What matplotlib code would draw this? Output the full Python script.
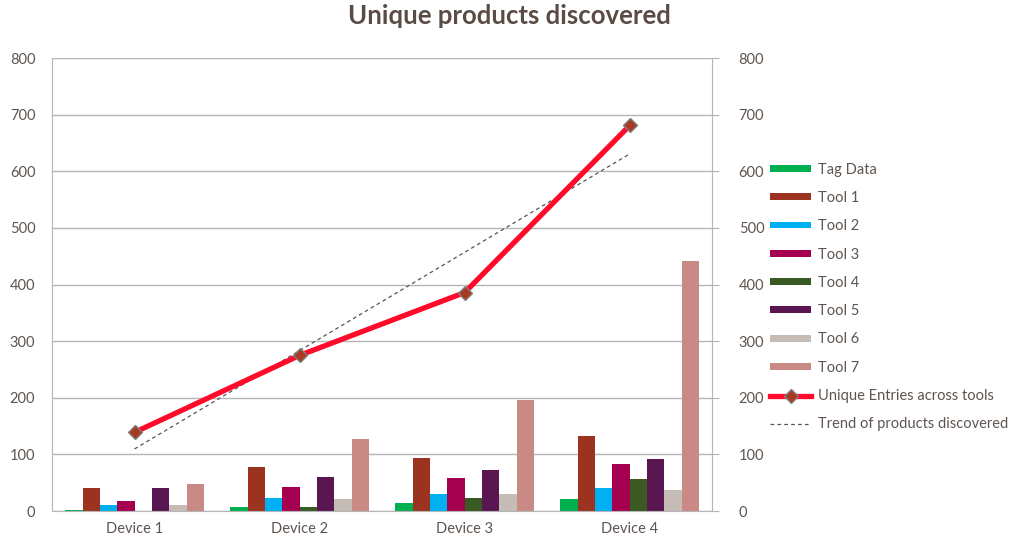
import matplotlib.pyplot as plt
import numpy as np

devices = ["Device 1", "Device 2", "Device 3", "Device 4"]
series_names = ["Tag Data", "Tool 1", "Tool 2", "Tool 3", "Tool 4", "Tool 5", "Tool 6", "Tool 7"]
tag_data = [2, 8, 14, 22]
tool1 = [41, 77, 94, 133]
tool2 = [11, 23, 30, 41]
tool3 = [18, 43, 59, 83]
tool4 = [0, 8, 24, 56]
tool5 = [41, 60, 72, 92]
tool6 = [10, 21, 30, 38]
tool7 = [47, 127, 197, 441]
unique_entries = [139, 275, 386, 681]

colors = ["#00b050", "#9c3320", "#00b0f0", "#a50050", "#3a5a24", "#5a1650", "#c4bcb5", "#c98a86"]
text_c = "#5f5550"
grid_c = "#b5b5b5"

plt.rcParams["font.family"] = ["Lato", "DejaVu Sans"]

fig = plt.figure(figsize=(10.19, 5.38), dpi=100)
ax = fig.add_axes([0.051, 0.05, 0.648, 0.842])
ax2 = ax.twinx()

x = np.arange(len(devices))
bw = 0.105
series = [tag_data, tool1, tool2, tool3, tool4, tool5, tool6, tool7]
handles = []
for i, (vals, name, c) in enumerate(zip(series, series_names, colors)):
    b = ax.bar(x + (i - 3.5) * bw, vals, bw, color=c, label=name, zorder=2)
    handles.append(b)

ln, = ax2.plot(x, unique_entries, color="#ff0a2a", lw=3.8, marker="D", ms=7,
               mfc="#a83a22", mec="#7f7f7f", mew=1, label="Unique Entries across tools", zorder=4)
# linear trend
k, b0 = np.polyfit(x, unique_entries, 1)
tr, = ax2.plot(x, k * x + b0, color="#555555", lw=0.9, ls=(0, (3, 2.5)),
               label="Trend of products discovered", zorder=3)

for a in (ax, ax2):
    a.set_ylim(0, 800)
    a.set_yticks(range(0, 801, 100))
    a.set_xlim(-0.5, 3.5)
    for s in a.spines.values():
        s.set_visible(False)

ax.yaxis.grid(True, color=grid_c, lw=1, zorder=0)
ax.set_axisbelow(True)
ax.spines["left"].set_visible(True)
ax.spines["left"].set_color(grid_c)
ax.spines["bottom"].set_visible(True)
ax.spines["bottom"].set_color(grid_c)
ax2.spines["right"].set_visible(True)
ax2.spines["right"].set_color(grid_c)

ax.tick_params(axis="y", length=0, pad=12, labelsize=10.5, labelcolor=text_c)
ax.tick_params(axis="x", length=0, pad=8, labelsize=10.5, labelcolor=text_c)
ax2.tick_params(axis="y", length=5, color=grid_c, pad=14, labelsize=10.5, labelcolor=text_c)
ax.set_xticks(x)
ax.set_xticklabels(devices)

fig.suptitle("Unique products discovered", x=0.5, y=0.992, fontsize=18.5, fontweight="bold", color="#5a4b44")

leg = fig.legend(handles + [ln, tr], series_names + [ln.get_label(), tr.get_label()],
                 loc="upper left", bbox_to_anchor=(0.743, 0.722), frameon=False,
                 fontsize=10.5, labelcolor=text_c, handlelength=2.8, handleheight=0.35,
                 labelspacing=0.98, handletextpad=0.45)

fig.savefig("out.png", dpi=100, facecolor="white")
